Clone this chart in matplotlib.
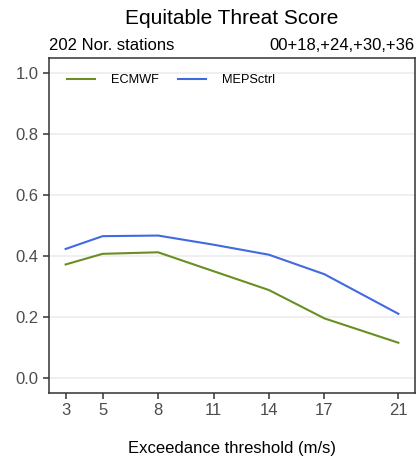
import matplotlib
matplotlib.use('Agg')
import matplotlib.pyplot as plt

plt.rcParams['font.family'] = ['Liberation Sans', 'DejaVu Sans']

# thresholds (m/s) and scores
thresholds = [3, 5, 8, 11, 14, 17, 21]
ecmwf = [0.372, 0.407, 0.412, 0.350, 0.288, 0.195, 0.115]
mepsctrl = [0.423, 0.465, 0.467, 0.437, 0.404, 0.340, 0.210]
yticks = [0.0, 0.2, 0.4, 0.6, 0.8, 1.0]

W, H = 418, 459
fig = plt.figure(figsize=(W / 100, H / 100), dpi=100)
ax = fig.add_axes([49 / W, 1 - 393 / H, 366 / W, 335 / H])

ax.plot(thresholds, ecmwf, color='#6B8E23', lw=1.5, label='ECMWF')
ax.plot(thresholds, mepsctrl, color='#4169E1', lw=1.5, label='MEPSctrl')

ax.set_xlim(2.1, 21.9)
ax.set_ylim(-0.05, 1.05)
ax.set_xticks(thresholds)
ax.set_yticks(yticks)
ax.set_yticklabels([f'{v:.1f}' for v in yticks])
ax.grid(axis='y', color='#EBEBEB', lw=1.1)
ax.set_axisbelow(True)
for s in ax.spines.values():
    s.set_color('#333333')
    s.set_linewidth(1.1)
ax.tick_params(colors='#333333', labelcolor='#4D4D4D', labelsize=12, length=4, width=1.1)

# title, subtitles and x label are placed over the panel, like ggplot does
cx = (49 + 415) / 2 / W
fig.text(cx, 1 - 453 / H, 'Exceedance threshold (m/s)', ha='center', va='baseline', fontsize=12)
fig.text(cx, 1 - 24 / H, 'Equitable Threat Score', ha='center', va='baseline', fontsize=15)
fig.text(49 / W, 1 - 46 / H, '202 Nor. stations', ha='left', va='center', fontsize=12)
fig.text(414 / W, 1 - 46 / H, '00+18,+24,+30,+36', ha='right', va='center', fontsize=12)

ax.legend(loc='upper left', ncol=2, frameon=False, fontsize=9.2, handlelength=2.2,
          columnspacing=1.5, handletextpad=1.25, borderpad=0, borderaxespad=0,
          bbox_to_anchor=(18 / 366, 1 - 16.5 / 335))

fig.savefig('out.png', dpi=100)
